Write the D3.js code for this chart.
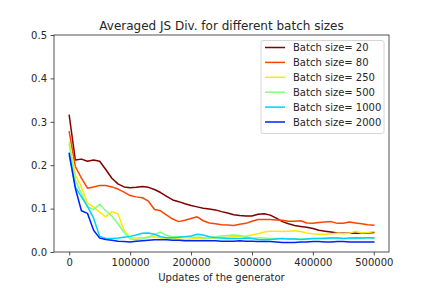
<!DOCTYPE html>
<html><head><meta charset="utf-8">
<script src="https://cdn.jsdelivr.net/npm/d3@7"></script>
<style>body{margin:0;background:#fff}svg{display:block}text{font-family:"DejaVu Sans",sans-serif;fill:#262626}</style>
</head><body><svg id="c" width="432" height="288"></svg>
<script>
const title = "Averaged JS Div. for different batch sizes";
const xLabel = "Updates of the generator";
const xTicks = [0, 100000, 200000, 300000, 400000, 500000];
const yTicks = [0.0, 0.1, 0.2, 0.3, 0.4, 0.5];
const updates = d3.range(0, 500001, 10000);
const seriesNames = ["Batch size= 20", "Batch size= 80", "Batch size= 250", "Batch size= 500", "Batch size= 1000", "Batch size= 2000"];
const seriesColors = ["#7f0000", "#ff4400", "#ffe800", "#80ff80", "#00d0ff", "#0020ff"];
const bs20 = [0.315,0.212,0.214,0.209,0.212,0.209,0.19,0.17,0.157,0.15,0.148,0.149,0.151,0.149,0.144,0.137,0.128,0.12,0.116,0.111,0.107,0.104,0.101,0.099,0.097,0.093,0.09,0.086,0.084,0.083,0.083,0.087,0.088,0.085,0.078,0.07,0.065,0.061,0.059,0.057,0.054,0.05,0.048,0.046,0.044,0.043,0.043,0.043,0.043,0.044,0.045];
const bs80 = [0.277,0.197,0.17,0.147,0.15,0.153,0.153,0.15,0.145,0.138,0.13,0.127,0.125,0.117,0.098,0.095,0.085,0.076,0.07,0.073,0.077,0.081,0.072,0.067,0.065,0.063,0.062,0.061,0.064,0.066,0.071,0.075,0.075,0.075,0.074,0.073,0.071,0.071,0.072,0.067,0.066,0.068,0.069,0.07,0.066,0.066,0.069,0.067,0.065,0.063,0.062];
const bs250 = [0.253,0.177,0.15,0.113,0.104,0.092,0.081,0.093,0.088,0.05,0.033,0.032,0.033,0.034,0.035,0.032,0.031,0.031,0.03,0.029,0.03,0.031,0.03,0.031,0.033,0.034,0.034,0.035,0.036,0.037,0.039,0.042,0.046,0.048,0.048,0.047,0.048,0.049,0.047,0.044,0.042,0.041,0.041,0.042,0.043,0.042,0.043,0.048,0.044,0.045,0.047];
const bs500 = [0.247,0.165,0.135,0.104,0.098,0.11,0.095,0.083,0.065,0.045,0.03,0.028,0.03,0.035,0.04,0.046,0.038,0.035,0.035,0.035,0.034,0.034,0.033,0.032,0.035,0.037,0.038,0.039,0.038,0.035,0.032,0.032,0.032,0.031,0.031,0.031,0.03,0.03,0.03,0.03,0.031,0.031,0.032,0.032,0.032,0.031,0.031,0.031,0.032,0.032,0.031];
const bs1000 = [0.222,0.15,0.127,0.105,0.078,0.036,0.031,0.031,0.032,0.034,0.036,0.039,0.043,0.044,0.041,0.035,0.033,0.033,0.034,0.035,0.037,0.041,0.039,0.035,0.033,0.032,0.031,0.031,0.031,0.032,0.031,0.029,0.028,0.029,0.03,0.031,0.03,0.03,0.029,0.03,0.031,0.031,0.031,0.032,0.032,0.031,0.032,0.033,0.032,0.033,0.033];
const bs2000 = [0.227,0.147,0.095,0.089,0.05,0.032,0.029,0.027,0.025,0.024,0.023,0.025,0.026,0.027,0.028,0.028,0.028,0.027,0.027,0.026,0.026,0.026,0.026,0.026,0.026,0.025,0.025,0.025,0.026,0.025,0.025,0.024,0.024,0.024,0.023,0.022,0.022,0.022,0.023,0.023,0.024,0.024,0.023,0.023,0.024,0.024,0.023,0.023,0.023,0.023,0.023];
const seriesValues = [bs20, bs80, bs250, bs500, bs1000, bs2000];

const svg = d3.select("#c");
const L = 54, R = 389, T = 35, B = 252;
const x = d3.scaleLinear().domain([-25000, 525000]).range([L, R]);
const y = d3.scaleLinear().domain([0, 0.5]).range([B, T]);

const line = d3.line().x((d, i) => x(updates[i])).y(d => y(d));
const plot = svg.append("g");
seriesValues.forEach((vals, k) => {
  plot.append("path").datum(vals).attr("d", line)
    .attr("fill", "none").attr("stroke", seriesColors[k]).attr("stroke-width", 1.5)
    .attr("stroke-linejoin", "round").attr("stroke-linecap", "square");
});

const xAxis = svg.append("g").attr("transform", `translate(0,${B})`)
  .call(d3.axisBottom(x).tickValues(xTicks).tickFormat(d3.format("d")).tickSize(3.5).tickPadding(3.5));
const yAxis = svg.append("g").attr("transform", `translate(${L},0)`)
  .call(d3.axisLeft(y).tickValues(yTicks).tickFormat(d3.format(".1f")).tickSize(3.5).tickPadding(3.5));
[xAxis, yAxis].forEach(a => {
  a.selectAll("text").attr("font-size", 10).style("font-family", "DejaVu Sans").attr("fill", "#262626");
  a.selectAll("line").attr("stroke", "#262626").attr("stroke-width", 0.8);
  a.select(".domain").remove();
});
svg.append("rect").attr("x", L).attr("y", T).attr("width", R - L).attr("height", B - T)
  .attr("fill", "none").attr("stroke", "#262626").attr("stroke-width", 0.8);

svg.append("text").attr("x", (L + R) / 2).attr("y", 30).attr("text-anchor", "middle")
  .attr("font-size", 12).text(title);
svg.append("text").attr("x", (L + R) / 2).attr("y", 281).attr("text-anchor", "middle")
  .attr("font-size", 10).text(xLabel);

const lg = svg.append("g");
lg.append("rect").attr("x", 261).attr("y", 40.5).attr("width", 123).attr("height", 93)
  .attr("rx", 2).attr("fill", "#fff").attr("fill-opacity", 0.8).attr("stroke", "#cccccc").attr("stroke-width", 0.8);
seriesNames.forEach((n, k) => {
  const yy = 47.5 + k * 14.9;
  lg.append("line").attr("x1", 265).attr("x2", 285).attr("y1", yy).attr("y2", yy)
    .attr("stroke", seriesColors[k]).attr("stroke-width", 1.5);
  lg.append("text").attr("x", 293).attr("y", yy + 3.6).attr("font-size", 10).text(n);
});
</script></body></html>
